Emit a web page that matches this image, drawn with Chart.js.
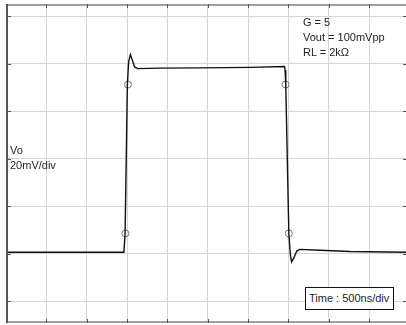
<!DOCTYPE html>
<html>
<head>
<meta charset="utf-8">
<script src="https://cdn.jsdelivr.net/npm/chart.js@4.4.0/dist/chart.umd.min.js"></script>
<style>
  html, body { margin: 0; padding: 0; background: #fff; overflow: hidden; }
  #wrap { position: relative; width: 406px; height: 325px; }
  canvas { display: block; }
  .lbl {
    position: absolute;
    font-family: "Liberation Sans", Arial, sans-serif;
    font-size: 11px;
    line-height: 15px;
    color: #222;
    white-space: nowrap;
  }
  #timeBox { border: 1px solid #111; padding: 4px 4px 4px 3px; line-height: 13px; background: #fff; }
</style>
</head>
<body>
<div id="wrap">
  <canvas id="scope" width="406" height="325"></canvas>
  <div class="lbl" style="left:303px; top:15px;">G = 5<br>Vout = 100mVpp<br>RL = 2kΩ</div>
  <div class="lbl" style="left:10px; top:143px;">Vo<br>20mV/div</div>
  <div class="lbl" id="timeBox" style="left:305px; top:287px;">Time : 500ns/div</div>
</div>
<script>
// --- Data (time in ns, Vo in mV, 500ns/div and 20mV/div) ---
const timeNs = [0, 1461, 1476, 1504, 1520, 1541, 1563, 1594, 1632, 1905, 2401, 3021, 3450, 3459, 3467, 3505, 3524, 3539, 3567, 3604, 3642, 3890, 4262, 4957];
const voltMv = [0.6, 0.6, 8.5, 71.2, 80.9, 83.8, 81.7, 78.6, 77.9, 78.1, 78.2, 78.4, 78.8, 77.2, 71.2, 8.6, -0.5, -3.5, -1.8, 1.1, 1.8, 1.4, 0.9, 0.6];

// 10% / 90% markers
const markTimeNs = [1480, 1511, 3465, 3505];
const markVoltMv = [8.5, 71.2, 71.2, 8.5];

// graticule
const xGridNs = [0, 500, 1000, 1500, 2000, 2500, 3000, 3500, 4000, 4500];
const yGridMv = [-20, 0, 20, 40, 60, 80, 100];

// --- Frame + inner tick marks plugin ---
const scopeFrame = {
  id: "scopeFrame",
  afterDatasetsDraw(chart) {
    const { ctx, chartArea: a, scales } = chart;
    const seg = (x1, y1, x2, y2) => {
      ctx.beginPath();
      ctx.moveTo(x1, y1);
      ctx.lineTo(x2, y2);
      ctx.stroke();
    };
    ctx.save();
    // top / bottom edges
    ctx.strokeStyle = "#a0a0a0";
    ctx.lineWidth = 2;
    seg(a.left, a.top + 1, a.right, a.top + 1);
    seg(a.left, a.bottom - 1, a.right, a.bottom - 1);
    // left edge
    ctx.strokeStyle = "#555";
    ctx.lineWidth = 2;
    seg(a.left + 1, a.top, a.left + 1, a.bottom);
    // tick marks on the gridlines
    ctx.strokeStyle = "#555";
    ctx.lineWidth = 1;
    xGridNs.forEach((v) => {
      const px = Math.round(scales.x.getPixelForValue(v)) + 0.5;
      if (v === 0) return;
      seg(px, a.top, px, a.top + 4);
      seg(px, a.bottom - 4, px, a.bottom);
    });
    yGridMv.forEach((v) => {
      const py = Math.round(scales.y.getPixelForValue(v)) + 0.5;
      seg(a.left, py, a.left + 5, py);
      seg(a.right - 3, py, a.right, py);
    });
    ctx.restore();
  },
};

const gridAxis = (min, max, values) => ({
  type: "linear",
  min: min,
  max: max,
  afterBuildTicks: (scale) => {
    scale.ticks = values.map((v) => ({ value: v }));
  },
  ticks: { display: false },
  grid: { color: "#d6d6d6", lineWidth: 1, drawTicks: false },
  border: { display: false },
});

new Chart(document.getElementById("scope"), {
  type: "scatter",
  data: {
    datasets: [
      {
        label: "Vo",
        data: timeNs.map((t, i) => ({ x: t, y: voltMv[i] })),
        showLine: true,
        borderColor: "#111",
        borderWidth: 1.4,
        pointRadius: 0,
        tension: 0,
      },
      {
        label: "10/90",
        data: markTimeNs.map((t, i) => ({ x: t, y: markVoltMv[i] })),
        showLine: false,
        pointStyle: "circle",
        pointRadius: 3.5,
        pointBorderColor: "#777",
        pointBorderWidth: 1,
        pointBackgroundColor: "rgba(0,0,0,0)",
      },
    ],
  },
  options: {
    responsive: false,
    animation: false,
    layout: { autoPadding: false, padding: { left: 6, top: 4, right: 0, bottom: 2 } },
    plugins: { legend: { display: false }, tooltip: { enabled: false } },
    scales: {
      x: gridAxis(0, 4957, xGridNs),
      y: gridAxis(-29.2, 105.1, yGridMv),
    },
  },
  plugins: [scopeFrame],
});
</script>
</body>
</html>
